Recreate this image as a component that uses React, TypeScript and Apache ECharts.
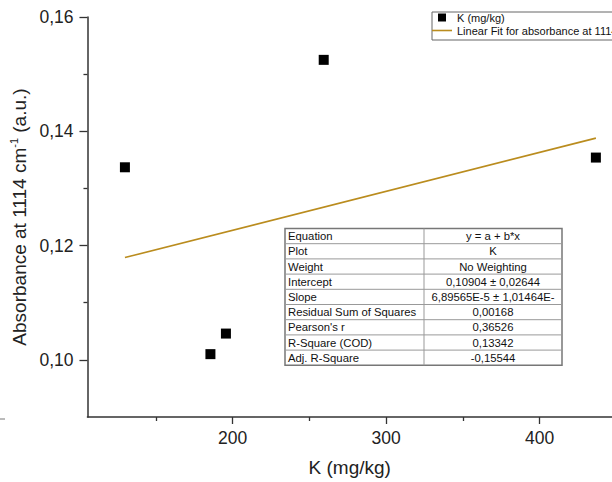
import React, { useEffect, useRef } from "react";
import * as echarts from "echarts";

const kValues = [129.9, 185.6, 195.7, 259.4, 436.7];
const absorbance = [0.1337, 0.101, 0.1046, 0.1525, 0.1354];
const fitX = [129.9, 436.7];
const fitY = [0.1179, 0.1388];

const xMajorTicks = [200, 300, 400];
const xMinorTicks = [150, 250, 350];
const yMajorTicks = [0.1, 0.12, 0.14, 0.16];
const yMinorTicks = [0.11, 0.13, 0.15];

const statLabels = [
  "Equation",
  "Plot",
  "Weight",
  "Intercept",
  "Slope",
  "Residual Sum of Squares",
  "Pearson's r",
  "R-Square (COD)",
  "Adj. R-Square",
];
const statValues = [
  "y = a + b*x",
  "K",
  "No Weighting",
  "0,10904 ± 0,02644",
  "6,89565E-5 ± 1,01464E-",
  "0,00168",
  "0,36526",
  "0,13342",
  "-0,15544",
];

const FONT = "'Liberation Sans', Arial, sans-serif";
const AXIS_COLOR = "#333";
const FIT_COLOR = "#BA8C1E";

function buildTable() {
  const left = 285;
  const right = 562;
  const top = 228.5;
  const rowH = 15.2;
  const mid = 424;
  const bottom = top + rowH * statLabels.length;
  const children: any[] = [];
  children.push({
    type: "rect",
    shape: { x: left, y: top, width: right - left, height: bottom - top },
    style: { fill: "#fff", stroke: "#777", lineWidth: 1.5 },
  });
  for (let i = 1; i < statLabels.length; i++) {
    const y = top + rowH * i;
    children.push({
      type: "line",
      shape: { x1: left, y1: y, x2: right, y2: y },
      style: { stroke: "#999", lineWidth: 1 },
    });
  }
  children.push({
    type: "line",
    shape: { x1: mid, y1: top, x2: mid, y2: bottom },
    style: { stroke: "#999", lineWidth: 1 },
  });
  statLabels.forEach((lab, i) => {
    const cy = top + rowH * (i + 0.5);
    children.push({
      type: "text",
      x: left + 3,
      y: cy,
      style: {
        text: lab,
        fontSize: 11.3,
        fontFamily: FONT,
        fill: "#111",
        align: "left",
        verticalAlign: "middle",
      },
    });
    children.push({
      type: "text",
      x: (mid + right) / 2,
      y: cy,
      style: {
        text: statValues[i],
        fontSize: 11.3,
        fontFamily: FONT,
        fill: "#111",
        align: "center",
        verticalAlign: "middle",
      },
    });
  });
  return { type: "group", children };
}

export default function App() {
  const ref = useRef<HTMLDivElement>(null);
  useEffect(() => {
    if (!ref.current) return;
    const chart = echarts.init(ref.current, null, { renderer: "svg" });
    const xMin = 105.5;
    const xMax = 447.2;
    const yMin = 0.09;
    const yMax = 0.16;
    const scatterData = kValues.map((x, i) => [x, absorbance[i]]);
    const fitData = fitX.map((x, i) => [x, fitY[i]]);
    const fmtY = (v: number) => v.toFixed(2).replace(".", ",");
    chart.setOption({
      animation: false,
      backgroundColor: "#fff",
      textStyle: { fontFamily: FONT },
      grid: { left: 84, right: 0, top: 17, bottom: 63, containLabel: false },
      legend: {
        orient: "vertical",
        left: 432,
        top: 12,
        padding: [0, 300, 4, 0],
        itemWidth: 20,
        itemHeight: 8,
        itemGap: 2,
        borderColor: "#666",
        borderWidth: 1,
        backgroundColor: "#fff",
        textStyle: { fontSize: 11, lineHeight: 11, color: "#111", fontFamily: FONT },
        data: [
          { name: "K (mg/kg)", icon: "path://M0,0H10V10H0Z" },
          { name: "Linear Fit for absorbance at 1114 cm-1", icon: "path://M0,0H20V1.6H0Z" },
        ],
        selectedMode: false,
      },
      xAxis: [
        {
          type: "value",
          min: xMin,
          max: xMax,
          position: "bottom",
          name: "K (mg/kg)",
          nameLocation: "middle",
          nameGap: 41,
          nameTextStyle: { fontSize: 19, color: "#222", fontFamily: FONT },
          axisLine: { show: true, lineStyle: { color: AXIS_COLOR, width: 1.5 } },
          axisTick: {
            show: true,
            length: 7,
            customValues: xMajorTicks,
            lineStyle: { color: AXIS_COLOR, width: 1.3 },
          },
          axisLabel: {
            customValues: xMajorTicks,
            fontSize: 17.5,
            color: "#222",
            margin: 12,
            fontFamily: FONT,
          },
          splitLine: { show: false },
        },
        {
          type: "value",
          min: xMin,
          max: xMax,
          position: "bottom",
          offset: 0,
          axisLine: { show: false },
          axisTick: {
            show: true,
            length: 4,
            customValues: xMinorTicks,
            lineStyle: { color: AXIS_COLOR, width: 1.3 },
          },
          axisLabel: { show: false },
          splitLine: { show: false },
        },
      ],
      yAxis: [
        {
          type: "value",
          min: yMin,
          max: yMax,
          position: "left",
          name: "{a|Absorbance at 1114 cm}{s|-1}{a| (a.u.)}",
          nameLocation: "middle",
          nameGap: 53,
          nameTextStyle: {
            fontFamily: FONT,
            rich: {
              a: { fontSize: 19, lineHeight: 22, color: "#222", fontFamily: FONT },
              s: { fontSize: 11, lineHeight: 22, verticalAlign: "top", color: "#222", fontFamily: FONT },
            },
          },
          axisLine: { show: true, lineStyle: { color: AXIS_COLOR, width: 1.5 } },
          axisTick: {
            show: true,
            length: 8,
            customValues: yMajorTicks,
            lineStyle: { color: AXIS_COLOR, width: 1.3 },
          },
          axisLabel: {
            customValues: yMajorTicks,
            formatter: fmtY,
            fontSize: 17.5,
            color: "#222",
            margin: 14,
            fontFamily: FONT,
          },
          splitLine: { show: false },
        },
        {
          type: "value",
          min: yMin,
          max: yMax,
          position: "left",
          offset: 0,
          axisLine: { show: false },
          axisTick: {
            show: true,
            length: 4,
            customValues: yMinorTicks,
            lineStyle: { color: AXIS_COLOR, width: 1.3 },
          },
          axisLabel: { show: false },
          splitLine: { show: false },
        },
      ],
      series: [
        {
          name: "Linear Fit for absorbance at 1114 cm-1",
          type: "line",
          xAxisIndex: 0,
          yAxisIndex: 0,
          data: fitData,
          symbol: "none",
          lineStyle: { color: FIT_COLOR, width: 1.6 },
          itemStyle: { color: FIT_COLOR },
          z: 2,
        },
        {
          name: "K (mg/kg)",
          type: "scatter",
          xAxisIndex: 0,
          yAxisIndex: 0,
          data: scatterData,
          symbol: "rect",
          symbolSize: 10,
          itemStyle: { color: "#000", opacity: 1 },
          z: 3,
        },
      ],
      graphic: [
        {
          type: "line",
          shape: { x1: 0, y1: 419, x2: 5, y2: 419 },
          style: { stroke: "#777", lineWidth: 1 },
        },
        buildTable(),
      ],
    });
    return () => chart.dispose();
  }, []);
  return (
    <div
      ref={ref}
      style={{ position: "absolute", left: 0, top: 0, width: 612, height: 482, background: "#fff" }}
    />
  );
}
